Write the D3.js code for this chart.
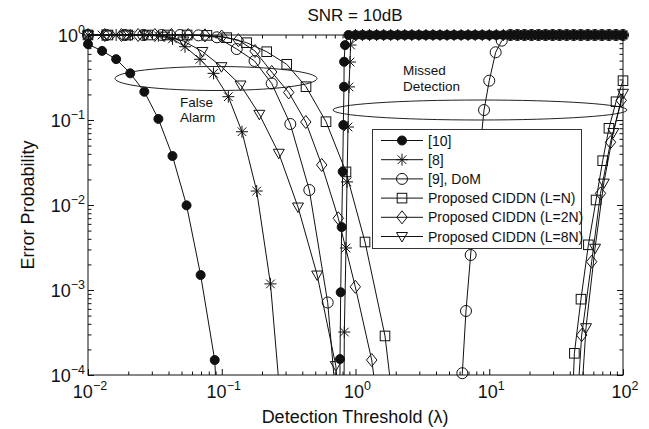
<!DOCTYPE html>
<html>
<head>
<meta charset="utf-8">
<script src="https://cdn.jsdelivr.net/npm/d3@7"></script>
<style>
  body { margin: 0; background: #fff; }
  svg { display: block; }
  text { font-family: "Liberation Sans", Arial, Helvetica, sans-serif; fill: #111; }
</style>
</head>
<body>
<svg id="chart" width="649" height="429"></svg>
<script>
// ---------------- data ----------------
const titleText = "SNR = 10dB";
const xLabel = "Detection Threshold (\u03bb)";
const yLabel = "Error Probability";
const xTickExps = [-2, -1, 0, 1, 2];
const yTickExps = [0, -1, -2, -3, -4];

// thresholds where the missed-detection curves sit on 1
const plateauLambda = [0.8859, 1.0, 1.1288, 1.2743, 1.4384, 1.6238, 1.833, 2.0691, 2.3357, 2.6367,
  2.9764, 3.3598, 3.7927, 4.2813, 4.8329, 5.4556, 6.1585, 6.9519, 7.8476, 8.8587,
  10, 11.288, 12.743, 14.384, 16.238, 18.33, 20.691, 23.357, 26.367, 29.764,
  33.598, 37.927, 42.813, 48.329, 54.556, 61.585, 69.519, 78.476, 88.587, 100];
const plateauP = [1, 1, 1, 1, 1, 1, 1, 1, 1, 1,
  1, 1, 1, 1, 1, 1, 1, 1, 1, 1,
  1, 1, 1, 1, 1, 1, 1, 1, 1, 1,
  1, 1, 1, 1, 1, 1, 1, 1, 1, 1];

// [10]
const faRef10Lambda = [0.01, 0.01274, 0.01624, 0.02069, 0.02637, 0.0336, 0.04281, 0.05456, 0.06952, 0.08859, 0.1129];
const faRef10P      = [0.78, 0.65, 0.52, 0.354, 0.215, 0.103, 0.0377, 0.0099, 0.0015, 1.5e-4, 1e-7];
const mdRef10Lambda = [0.76, 0.766, 0.775, 0.788, 0.802, 0.811, 0.820, 0.822, 0.835];
const mdRef10P      = [1e-6, 1.54e-4, 9.4e-4, 5.5e-3, 0.0247, 0.0873, 0.246, 0.485, 0.76];

// [8]
const faRef8Lambda = [0.01, 0.01274, 0.01624, 0.02069, 0.02637, 0.0336, 0.04281, 0.0531, 0.0688, 0.0868, 0.112, 0.1417, 0.1825, 0.2314, 0.294];
const faRef8P      = [1, 1, 1, 1, 1, 0.98, 0.9, 0.728, 0.518, 0.354, 0.188, 0.0728, 0.0146, 1.18e-3, 1.4e-5];
const mdRef8Lambda = [0.81, 0.825, 0.849, 0.864, 0.879, 0.894, 0.910, 0.918];
const mdRef8P      = [1e-6, 3.2e-4, 3.12e-3, 0.0187, 0.0827, 0.245, 0.481, 0.762];

// [9], DoM
const faRef9Lambda = [0.01, 0.01373, 0.01885, 0.02588, 0.03553, 0.04879, 0.06698, 0.09196, 0.1294, 0.1758, 0.2363, 0.3255, 0.4515, 0.6196, 0.8507];
const faRef9P      = [1, 1, 1, 1, 1, 1, 0.99, 0.94, 0.684, 0.495, 0.269, 0.0897, 0.015, 7.13e-4, 2e-6];
const mdRef9Lambda = [5.9, 6.29, 6.70, 7.26, 8.09, 9.14, 10.0, 11.17, 12.4];
const mdRef9P      = [1e-6, 1.05e-4, 5.66e-4, 2.58e-3, 0.0197, 0.131, 0.29, 0.626, 0.857];

// Proposed CIDDN (L=N)
const faLNLambda = [0.01, 0.0141, 0.0198, 0.0279, 0.0392, 0.0551, 0.0774, 0.1089, 0.1536, 0.2168, 0.306, 0.4266, 0.6018, 0.849, 1.178, 1.662, 2.34];
const faLNP      = [1, 1, 1, 1, 1, 1, 0.99, 0.93, 0.812, 0.636, 0.452, 0.2465, 0.0955, 0.0245, 3.67e-3, 2.88e-4, 3e-6];
const mdLNLambda = [41.0, 43.3, 48.5, 55.1, 62.9, 70.5, 78.5, 88.7, 100];
const mdLNP      = [2e-5, 1.8e-4, 7.8e-4, 3.4e-3, 0.01145, 0.0332, 0.0799, 0.164, 0.29];

// Proposed CIDDN (L=2N)
const fa2NLambda = [0.01, 0.01333, 0.01778, 0.0237, 0.0316, 0.0421, 0.0562, 0.0749, 0.0999, 0.1332, 0.1773, 0.2363, 0.3167, 0.425, 0.559, 0.744, 0.9966, 1.322, 1.76];
const fa2NP      = [1, 1, 1, 1, 1, 1, 1, 0.99, 0.96, 0.87, 0.648, 0.367, 0.211, 0.0947, 0.0296, 6.98e-3, 1.09e-3, 1.5e-4, 5e-6];
const md2NLambda = [44.0, 49.1, 58.3, 67.9, 80.7, 97.0];
const md2NP      = [2e-5, 2.95e-4, 2.15e-3, 0.0137, 0.0548, 0.17];

// Proposed CIDDN (L=8N)
const fa8NLambda = [0.01, 0.01388, 0.01928, 0.02676, 0.03716, 0.0516, 0.07163, 0.0995, 0.1381, 0.191, 0.267, 0.3716, 0.517, 0.712, 0.989];
const fa8NP      = [1, 1, 1, 1, 0.97, 0.85, 0.64, 0.424, 0.258, 0.1167, 0.0406, 9.47e-3, 1.5e-3, 1.29e-4, 5e-7];
const md8NLambda = [47.0, 52.9, 61.8, 71.8, 84.7, 100];
const md8NP      = [2e-5, 3.6e-4, 3.1e-3, 0.0181, 0.0713, 0.206];

const seriesNames = ["[10]", "[8]", "[9], DoM", "Proposed CIDDN (L=N)", "Proposed CIDDN (L=2N)", "Proposed CIDDN (L=8N)"];
const seriesMarkers = ["dot", "star", "circle", "square", "diamond", "triangle"];

// ---------------- build series ----------------
const zip = (a, b) => a.map((v, i) => [v, b[i]]);
const plateau = zip(plateauLambda, plateauP);
const plateauAfter = l0 => plateau.filter(d => d[0] > l0 * 1.04);

const series = [
  { fa: zip(faRef10Lambda, faRef10P), md: zip(mdRef10Lambda, mdRef10P).concat(plateauAfter(0.835)) },
  { fa: zip(faRef8Lambda, faRef8P),   md: zip(mdRef8Lambda, mdRef8P).concat(plateauAfter(0.918)) },
  { fa: zip(faRef9Lambda, faRef9P),   md: zip(mdRef9Lambda, mdRef9P).concat(plateauAfter(12.4)) },
  { fa: zip(faLNLambda, faLNP),       md: zip(mdLNLambda, mdLNP) },
  { fa: zip(fa2NLambda, fa2NP),       md: zip(md2NLambda, md2NP) },
  { fa: zip(fa8NLambda, fa8NP),       md: zip(md8NLambda, md8NP) }
].map((s, i) => Object.assign(s, { name: seriesNames[i], marker: seriesMarkers[i] }));

// ---------------- layout ----------------
const svg = d3.select("#chart");
const pL = 88, pR = 623, pT = 35, pB = 375;
const x = d3.scaleLog().domain([1e-2, 1e2]).range([pL, pR]);
const y = d3.scaleLog().domain([1e-4, 1]).range([pB, pT]);

// ---------------- ticks ----------------
const minorX = [], minorY = [];
for (let e = -2; e < 2; e++) for (let m = 2; m <= 9; m++) minorX.push(m * Math.pow(10, e));
for (let e = -4; e < 0; e++) for (let m = 2; m <= 9; m++) minorY.push(m * Math.pow(10, e));
const majorX = xTickExps.map(e => Math.pow(10, e));
const majorY = yTickExps.map(e => Math.pow(10, e));

const axes = svg.append("g").attr("class", "axes");
function tickAxis(gen, vals, len, tx, ty) {
  axes.append("g").attr("transform", `translate(${tx},${ty})`)
    .call(gen.tickValues(vals).tickSize(-len).tickFormat(""))
    .call(g => g.select(".domain").remove())
    .call(g => g.selectAll("line").attr("stroke", "#111").attr("stroke-width", 1));
}
tickAxis(d3.axisBottom(x), majorX, 6, 0, pB);
tickAxis(d3.axisBottom(x), minorX, 3.5, 0, pB);
tickAxis(d3.axisTop(x), majorX, 6, 0, pT);
tickAxis(d3.axisTop(x), minorX, 3.5, 0, pT);
tickAxis(d3.axisLeft(y), majorY, 6, pL, 0);
tickAxis(d3.axisLeft(y), minorY, 3.5, pL, 0);
tickAxis(d3.axisRight(y), majorY, 6, pR, 0);
tickAxis(d3.axisRight(y), minorY, 3.5, pR, 0);

axes.append("rect").attr("x", pL).attr("y", pT)
  .attr("width", pR - pL).attr("height", pB - pT)
  .attr("fill", "none").attr("stroke", "#111").attr("stroke-width", 1);

// tick labels: 10 with superscript exponent
const minus = "\u2212";
xTickExps.forEach(e => {
  const t = axes.append("text").attr("x", x(Math.pow(10, e)) + 2).attr("y", 398)
    .attr("text-anchor", "middle").style("font-size", "18px");
  t.append("tspan").text("10");
  t.append("tspan").attr("dy", -8).style("font-size", "12.5px").text((e < 0 ? minus : "") + Math.abs(e));
});
yTickExps.forEach(e => {
  const t = axes.append("text").attr("x", 85).attr("y", y(Math.pow(10, e)) + 7)
    .attr("text-anchor", "end").style("font-size", "18px");
  t.append("tspan").text("10");
  t.append("tspan").attr("dy", -8).style("font-size", "12.5px").text((e < 0 ? minus : "") + Math.abs(e));
});

// titles
svg.append("text").attr("x", 355).attr("y", 21).attr("text-anchor", "middle")
  .style("font-size", "17px").text(titleText);
svg.append("text").attr("x", 355).attr("y", 423).attr("text-anchor", "middle")
  .style("font-size", "18px").text(xLabel);
svg.append("text").attr("transform", "translate(34,205) rotate(-90)").attr("text-anchor", "middle")
  .style("font-size", "18px").text(yLabel);

// ---------------- annotation ellipses ----------------
const notes = svg.append("g");
notes.append("ellipse").attr("cx", 216).attr("cy", 78.5).attr("rx", 101).attr("ry", 12)
  .attr("fill", "none").attr("stroke", "#222").attr("stroke-width", 1);
notes.append("ellipse").attr("cx", 480).attr("cy", 110).attr("rx", 147).attr("ry", 10)
  .attr("fill", "none").attr("stroke", "#222").attr("stroke-width", 1);
[["False", 180, 107], ["Alarm", 180, 122], ["Missed", 403, 75], ["Detection", 403, 90.5]].forEach(([s, tx, ty]) =>
  notes.append("text").attr("x", tx).attr("y", ty).style("font-size", "13.5px").text(s));

// ---------------- curves ----------------
svg.append("clipPath").attr("id", "plotClip").append("rect")
  .attr("x", pL).attr("y", pT - 1).attr("width", pR - pL + 1).attr("height", pB - pT + 1);

const line = d3.line().x(d => x(d[0])).y(d => y(d[1]));

function drawMarker(g, kind, cx, cy) {
  let el;
  if (kind === "dot") el = g.append("circle").attr("cx", cx).attr("cy", cy).attr("r", 4.5).attr("fill", "#111");
  else if (kind === "circle") el = g.append("circle").attr("cx", cx).attr("cy", cy).attr("r", 5.5).attr("fill", "none");
  else if (kind === "square") el = g.append("rect").attr("x", cx - 4.8).attr("y", cy - 4.8).attr("width", 9.6).attr("height", 9.6).attr("fill", "none");
  else if (kind === "diamond") el = g.append("path").attr("d", `M${cx},${cy - 6.5}L${cx + 5.2},${cy}L${cx},${cy + 6.5}L${cx - 5.2},${cy}Z`).attr("fill", "none");
  else if (kind === "triangle") el = g.append("path").attr("d", `M${cx - 5.5},${cy - 4}L${cx + 5.5},${cy - 4}L${cx},${cy + 5.5}Z`).attr("fill", "none");
  else {
    const r = 6, q = r * 0.72;
    el = g.append("path").attr("d",
      `M${cx - r},${cy}L${cx + r},${cy}M${cx},${cy - r}L${cx},${cy + r}` +
      `M${cx - q},${cy - q}L${cx + q},${cy + q}M${cx - q},${cy + q}L${cx + q},${cy - q}`).attr("fill", "none");
  }
  el.attr("stroke", "#111").attr("stroke-width", 1);
}

const curves = svg.append("g");
series.forEach(s => {
  [s.fa, s.md].forEach(pts => {
    curves.append("path").datum(pts).attr("d", line).attr("clip-path", "url(#plotClip)")
      .attr("fill", "none").attr("stroke", "#111").attr("stroke-width", 1);
  });
});
series.forEach(s => {
  const g = curves.append("g");
  s.fa.concat(s.md).filter(d => d[1] >= 9.5e-5 && d[1] <= 1.01)
    .forEach(d => drawMarker(g, s.marker, x(d[0]), y(d[1])));
});

// ---------------- legend ----------------
const lg = svg.append("g");
lg.append("rect").attr("x", 372.5).attr("y", 129.5).attr("width", 209).attr("height", 119)
  .attr("fill", "#fff").attr("stroke", "#333").attr("stroke-width", 1);
series.forEach((s, i) => {
  const ly = 140.5 + i * 19.2;
  lg.append("line").attr("x1", 381).attr("x2", 423).attr("y1", ly).attr("y2", ly)
    .attr("stroke", "#111").attr("stroke-width", 1);
  drawMarker(lg, s.marker, 402, ly);
  lg.append("text").attr("x", 428).attr("y", ly + 5).style("font-size", "14px").text(s.name);
});
</script>
</body>
</html>
